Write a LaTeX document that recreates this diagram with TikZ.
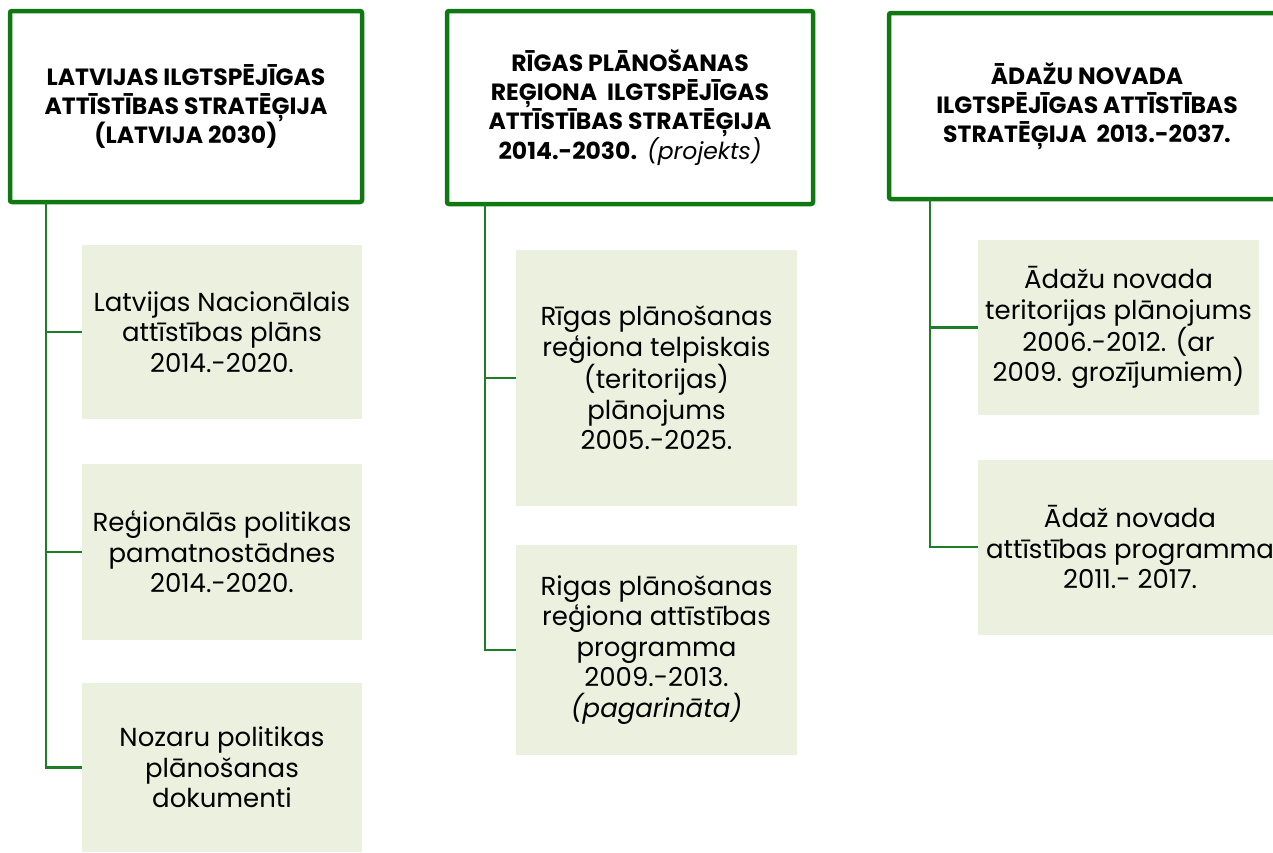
\documentclass[tikz,border=0pt]{standalone}
\usepackage{fontspec}
\setmainfont{Poppins}
\definecolor{hdgreen}{RGB}{16,120,16}
\definecolor{lngreen}{RGB}{30,125,40}
\definecolor{boxfill}{RGB}{235,241,222}
\begin{document}
\begin{tikzpicture}[x=1pt,y=-1pt,
  header/.style={draw=hdgreen, line width=4.5pt, rounded corners=2pt, fill=white, inner sep=0pt, align=center, font=\fontsize{23.5}{29}\selectfont\bfseries},
  child/.style={fill=boxfill, draw=none, inner sep=0pt, align=center, font=\fontsize{26}{30.5}\selectfont},
  conn/.style={draw=lngreen, line width=2.6pt}]
\useasboundingbox (0,0) rectangle (1273,852);
\clip (0,0) rectangle (1273,852);
% headers
\node[header, minimum width=352pt, minimum height=191pt] (h1) at (186,106.5) {LATVIJAS ILGTSPĒJĪGAS\\ATTĪSTĪBAS STRATĒĢIJA\\(LATVIJA 2030)};
\node[header, minimum width=366pt, minimum height=193pt] (h2) at (630,107.5) {RĪGAS PLĀNOŠANAS\\REĢIONA\ \ ILGTSPĒJĪGAS\\ATTĪSTĪBAS STRATĒĢIJA\\2014.-2030.\ \ {\mdseries\itshape (projekts)}};
\node[header, minimum width=396pt, minimum height=186pt] (h3) at (1087,106) {ĀDAŽU NOVADA\\ILGTSPĒJĪGAS ATTĪSTĪBAS\\STRATĒĢIJA\ \ 2013.-2037.};
% children column 1
\node[child, minimum width=280pt, minimum height=174pt] (c11) at (222,332) {Latvijas Nacionālais\\attīstības plāns\\2014.-2020.};
\node[child, minimum width=280pt, minimum height=176pt] (c12) at (222,552) {Reģionālās politikas\\pamatnostādnes\\2014.-2020.};
\node[child, minimum width=280pt, minimum height=169pt] (c13) at (222,767.5) {Nozaru politikas\\plānošanas\\dokumenti};
% children column 2
\node[child, minimum width=281pt, minimum height=256pt] (c21) at (656.5,378) {Rīgas plānošanas\\reģiona telpiskais\\(teritorijas)\\plānojums\\2005.-2025.};
\node[child, minimum width=281pt, minimum height=210pt] (c22) at (656.5,650) {Rigas plānošanas\\reģiona attīstības\\programma\\2009.-2013.\\\textit{(pagarināta)}};
% children column 3
\node[child, minimum width=281pt, minimum height=175pt] (c31) at (1118.5,327.5) {Ādažu novada\\teritorijas plānojums\\2006.-2012. (ar\\2009. grozījumiem)};
\node[child, minimum width=304pt, minimum height=175pt] (c32) at (1130,547) {Ādaž novada\\attīstības programma\\2011.- 2017.};
% trunk coordinates
\coordinate (t1) at (46,202);
\coordinate (t2) at (485,204);
\coordinate (t3) at (930,199);
\draw[conn] (t1) |- (c11.west);
\draw[conn] (t1) |- (c12.west);
\draw[conn] (t1) |- (c13.west);
\draw[conn] (t2) |- (c21.west);
\draw[conn] (t2) |- (c22.west);
\draw[conn] (t3) |- (c31.west);
\draw[conn] (t3) |- (c32.west);
\end{tikzpicture}
\end{document}
